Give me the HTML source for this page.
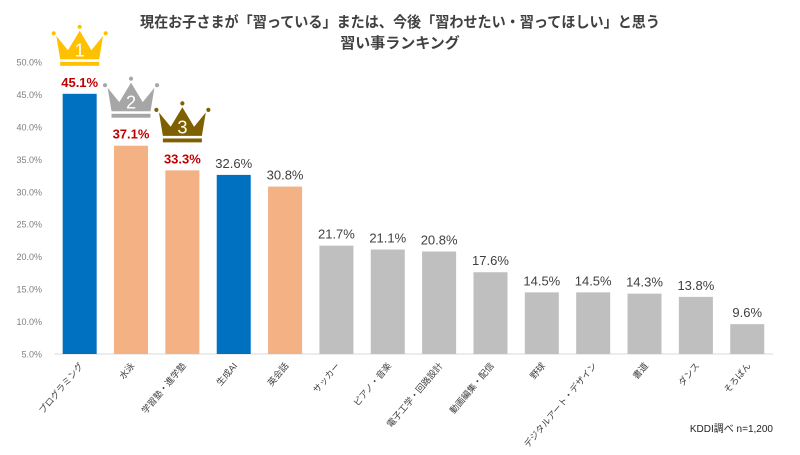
<!DOCTYPE html>
<html><head><meta charset="utf-8">
<style>
body{margin:0;background:#fff;}
svg text{font-family:"Liberation Sans","Noto Sans CJK JP",sans-serif;}
</style></head>
<body>
<svg id="chart" width="800" height="450" xmlns="http://www.w3.org/2000/svg">
<text x="400" y="27" text-anchor="middle" font-size="15" font-weight="bold" fill="#404040" textLength="520" lengthAdjust="spacingAndGlyphs">現在お子さまが「習っている」または、今後「習わせたい・習ってほしい」と思う</text>
<text x="400" y="48" text-anchor="middle" font-size="15" font-weight="bold" fill="#404040">習い事ランキング</text>
<g id="yaxis"></g>
<g id="bars"></g>
<g id="crowns"></g>
<text x="773" y="432" text-anchor="end" font-size="10" fill="#222">KDDI調べ  n=1,200</text>
</svg>
<script>
const categories=["プログラミング","水泳","学習塾・進学塾","生成AI","英会話","サッカー","ピアノ・音楽","電子工学・回路設計","動画編集・配信","野球","デジタルアート・デザイン","書道","ダンス","そろばん"];
const values=[45.1,37.1,33.3,32.6,30.8,21.7,21.1,20.8,17.6,14.5,14.5,14.3,13.8,9.6];
const colors=["#0070c0","#f4b183","#f4b183","#0070c0","#f4b183","#bfbfbf","#bfbfbf","#bfbfbf","#bfbfbf","#bfbfbf","#bfbfbf","#bfbfbf","#bfbfbf","#bfbfbf"];
const ticks=[5,10,15,20,25,30,35,40,45,50];
const NS="http://www.w3.org/2000/svg";
const y0=354,y1=62,vmin=5,vmax=50;
const y=v=>y0-(v-vmin)/(vmax-vmin)*(y0-y1);
const x0=54,pitch=51.35,bw=34;
const xc=i=>x0+pitch*(i+0.5);
function mk(t,a,p){const e=document.createElementNS(NS,t);for(const k in a)e.setAttribute(k,a[k]);p.appendChild(e);return e;}
const ya=document.getElementById('yaxis');
ticks.forEach(t=>{const e=mk('text',{x:42,y:y(t)+3.5,'text-anchor':'end','font-size':'9',fill:'#7f7f7f'},ya);


e.textContent=t.toFixed(1)+'%';});
const ax=mk('line',{x1:x0,x2:773,y1:y0,y2:y0,stroke:'#d9d9d9','stroke-width':1},ya);


const bg=document.getElementById('bars');
values.forEach((v,i)=>{
const r=mk('rect',{x:xc(i)-bw/2,y:y(v),width:bw,height:y0-y(v),fill:colors[i]},bg);


const t=mk('text',{x:xc(i),y:y(v)-7,'text-anchor':'middle','font-size':'13',fill:i<3?'#c00000':'#404040','font-weight':i<3?'bold':'normal'},bg);


t.textContent=v.toFixed(1)+'%';
const l=mk('text',{x:xc(i)+4,y:366,'text-anchor':'end','font-size':'9',fill:'#404040',transform:`rotate(-50 ${xc(i)+4} 366)`},bg);


l.textContent=categories[i];});
const cg=document.getElementById('crowns');
const crownCols=["#ffc000","#a6a6a6","#7f6000"];
[0,1,2].forEach(i=>{
const cx=xc(i),base=y(values[i])-28;
const g=mk('g',{transform:`translate(${cx},${base}) scale(1.3)`},cg);


const c=crownCols[i];
mk('path',{d:`M-18,-23 L-9,-12 L0,-27 L9,-12 L18,-23 L15,-5 L-15,-5 Z`,fill:c},g);
mk('rect',{x:-15,y:-3,width:30,height:3,fill:c},g);
mk('circle',{cx:-20,cy:-25,r:1.6,fill:c},g);
mk('circle',{cx:20,cy:-25,r:1.6,fill:c},g);
mk('circle',{cx:0,cy:-30,r:1.6,fill:c},g);
const n=mk('text',{x:0,y:-7,'text-anchor':'middle','font-size':'14',fill:'#fff'},g);
n.textContent=String(i+1);});
</script>
</body></html>
